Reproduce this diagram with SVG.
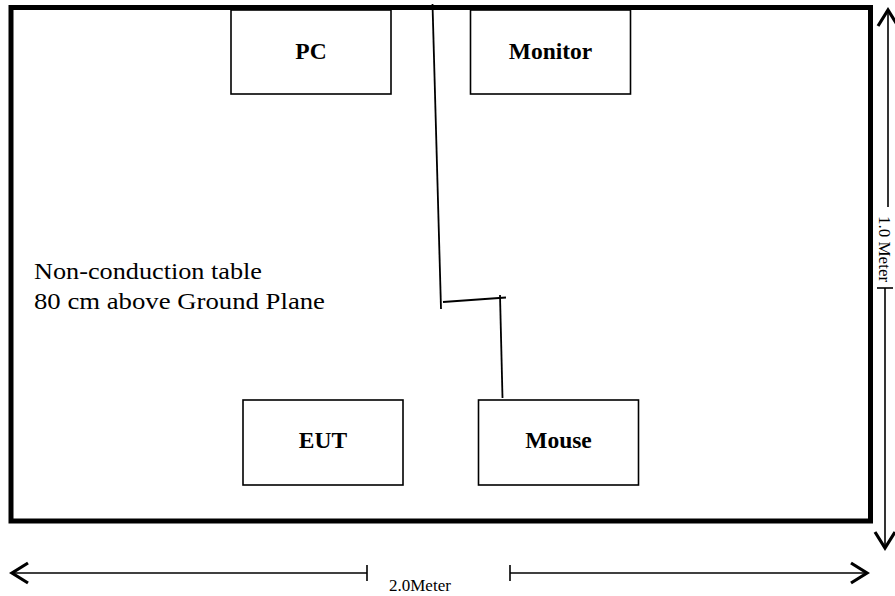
<svg xmlns="http://www.w3.org/2000/svg" width="895" height="596" viewBox="0 0 895 596">
<style>
.box{fill:#fff;stroke:#000;stroke-width:1.6}
.lbl{font-family:"Liberation Serif","Times New Roman",serif;font-weight:bold;font-size:23.5px;text-anchor:middle;fill:#000}
.txt{font-family:"Liberation Serif","Times New Roman",serif;font-size:24px;fill:#000}
.cable{fill:none;stroke:#000;stroke-width:1.8}
.dim{fill:none;stroke:#000;stroke-width:1.6}
.dtxt{font-family:"Liberation Serif","Times New Roman",serif;fill:#000}
</style>
<defs>
<marker id="ah" viewBox="-22 -12 24 24" refX="0" refY="0" markerWidth="24" markerHeight="24" markerUnits="userSpaceOnUse" orient="auto">
<path d="M-17,-10 L-1,0 L-17,10" fill="none" stroke="#000" stroke-width="3.2" stroke-linejoin="miter"/>
</marker>
</defs>
<rect width="895" height="596" fill="#fff"/>
<g id="table">
<rect x="11" y="7.5" width="859.5" height="513.5" fill="#fff" stroke="#000" stroke-width="5"/>
<text class="txt" x="34" y="279" textLength="228" lengthAdjust="spacingAndGlyphs">Non-conduction table</text>
<text class="txt" x="34" y="309" textLength="291" lengthAdjust="spacingAndGlyphs">80 cm above Ground Plane</text>
</g>
<g id="pc"><rect class="box" x="231" y="10" width="160" height="84"/><text class="lbl" x="311" y="59">PC</text></g>
<g id="monitor"><rect class="box" x="470.5" y="10" width="160" height="84"/><text class="lbl" x="550.5" y="59">Monitor</text></g>
<g id="eut"><rect class="box" x="243" y="400" width="160" height="85"/><text class="lbl" x="323" y="448">EUT</text></g>
<g id="mouse"><rect class="box" x="478.5" y="400" width="160" height="85"/><text class="lbl" x="558.5" y="448">Mouse</text></g>
<g id="connectors">
<polyline class="cable" points="432.5,4 441,309"/>
<polyline class="cable" points="443,302 506,297.5"/>
<polyline class="cable" points="500,295 502.5,398"/>
</g>
<g id="dimensions">
<line class="dim" x1="367" y1="573" x2="11" y2="573" marker-end="url(#ah)"/>
<line class="dim" x1="367" y1="565" x2="367" y2="581"/>
<line class="dim" x1="510" y1="573" x2="868" y2="573" marker-end="url(#ah)"/>
<line class="dim" x1="510" y1="565" x2="510" y2="581"/>
<text class="dtxt" x="389" y="591" font-size="17">2.0Meter</text>
<line class="dim" x1="888" y1="207" x2="888" y2="9" marker-end="url(#ah)"/>
<line class="dim" x1="885" y1="288" x2="885" y2="549" marker-end="url(#ah)"/>
<line class="dim" x1="877" y1="288" x2="893" y2="288"/>
<text class="dtxt" transform="translate(879,216) rotate(90)" font-size="17">1.0 Meter</text>
</g>
</svg>
